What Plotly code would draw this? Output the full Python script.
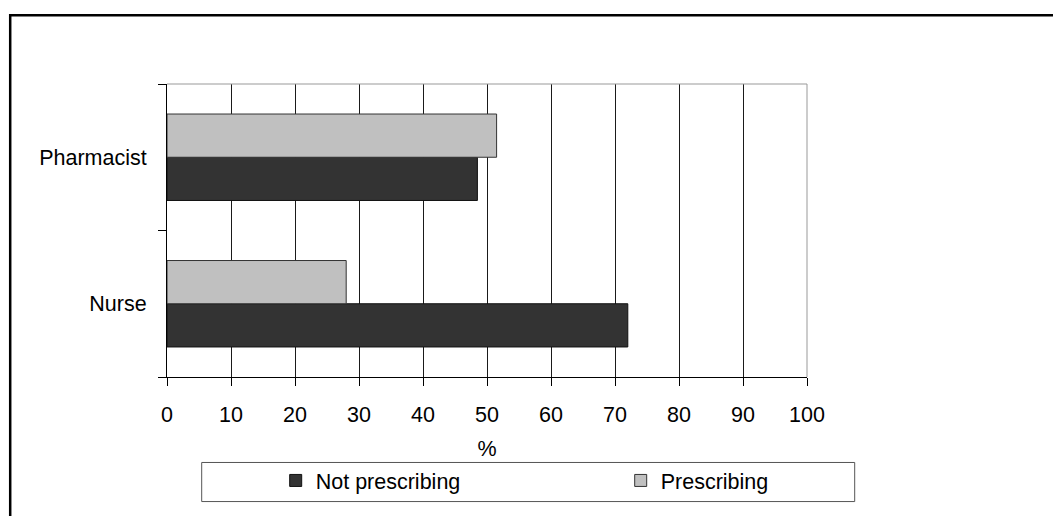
import plotly.graph_objects as go

categories = ["Nurse", "Pharmacist"]
not_prescribing = [72, 48.5]
prescribing = [28, 51.5]
x_ticks = [0, 10, 20, 30, 40, 50, 60, 70, 80, 90, 100]
series_names = ["Not prescribing", "Prescribing"]

# page body has an 8px margin; figure coordinates = page coordinates - 8
OFF = 8
W, H = 1061 - 2 * OFF, 524 - 2 * OFF
L, R, T, B = 167.3 - OFF, 807.3 - OFF, 84.3 - OFF, 376.7 - OFF


def px_x(p):
    """page x pixel -> paper fraction"""
    return (p - OFF - L) / (R - L)


def px_y(p):
    """page y pixel -> paper fraction"""
    return (B - (p - OFF)) / (B - T)


FONT = "Liberation Sans, Arial, sans-serif"
FS = 21.5

fig = go.Figure()
fig.add_trace(go.Bar(
    y=categories, x=not_prescribing, name=series_names[0], orientation="h",
    marker=dict(color="#333333", line=dict(color="#111111", width=1)),
    legend="legend",
))
fig.add_trace(go.Bar(
    y=categories, x=prescribing, name=series_names[1], orientation="h",
    marker=dict(color="#c0c0c0", line=dict(color="#333333", width=1)),
    legend="legend2",
))

legend_common = dict(
    orientation="h", xanchor="left", yanchor="top",
    bgcolor="rgba(0,0,0,0)", borderwidth=0,
    font=dict(family=FONT, size=FS, color="black"),
)

fig.update_layout(
    width=W, height=H,
    margin=dict(l=L, r=W - R, t=T, b=H - B, pad=0),
    paper_bgcolor="white", plot_bgcolor="white",
    barmode="group", bargap=0.41, bargroupgap=0,
    font=dict(family=FONT, size=FS, color="black"),
    showlegend=True,
    legend=dict(x=px_x(276), y=px_y(459.5), **legend_common),
    legend2=dict(x=px_x(621), y=px_y(459.5), **legend_common),
    shapes=[
        # outer frame (only top and left edges fall inside the picture)
        dict(type="rect", xref="paper", yref="paper",
             x0=px_x(10.5), x1=px_x(1300), y0=px_y(15.7), y1=px_y(800),
             line=dict(color="black", width=2.5), layer="below"),
        # legend box
        dict(type="rect", xref="paper", yref="paper",
             x0=px_x(202), x1=px_x(855), y0=px_y(462), y1=px_y(501),
             line=dict(color="#555555", width=1)),
        # plot area top/right border (gray)
        dict(type="line", xref="paper", yref="paper", x0=0, x1=1, y0=1, y1=1,
             line=dict(color="#999999", width=1)),
        dict(type="line", xref="paper", yref="paper", x0=1, x1=1, y0=0, y1=1,
             line=dict(color="#999999", width=1)),
    ],
)

fig.update_xaxes(
    range=[0, 100], tickvals=x_ticks, ticktext=[str(v) for v in x_ticks],
    showgrid=True, gridcolor="#1a1a1a", gridwidth=1,
    showline=True, linecolor="black", linewidth=1,
    ticks="outside", ticklen=8, tickcolor="black", tickwidth=1,
    ticklabelstandoff=10, zeroline=False,
    title=dict(text="%", standoff=15, font=dict(family=FONT, size=FS)),
    automargin=False, fixedrange=True,
)
fig.update_yaxes(
    type="category", categoryorder="array", categoryarray=categories,
    showgrid=False, showline=True, linecolor="black", linewidth=1,
    ticks="outside", ticklen=8, tickcolor="black", tickwidth=1,
    tickson="boundaries", ticklabelstandoff=15,
    automargin=False, fixedrange=True,
)

fig.write_html("out.html")
